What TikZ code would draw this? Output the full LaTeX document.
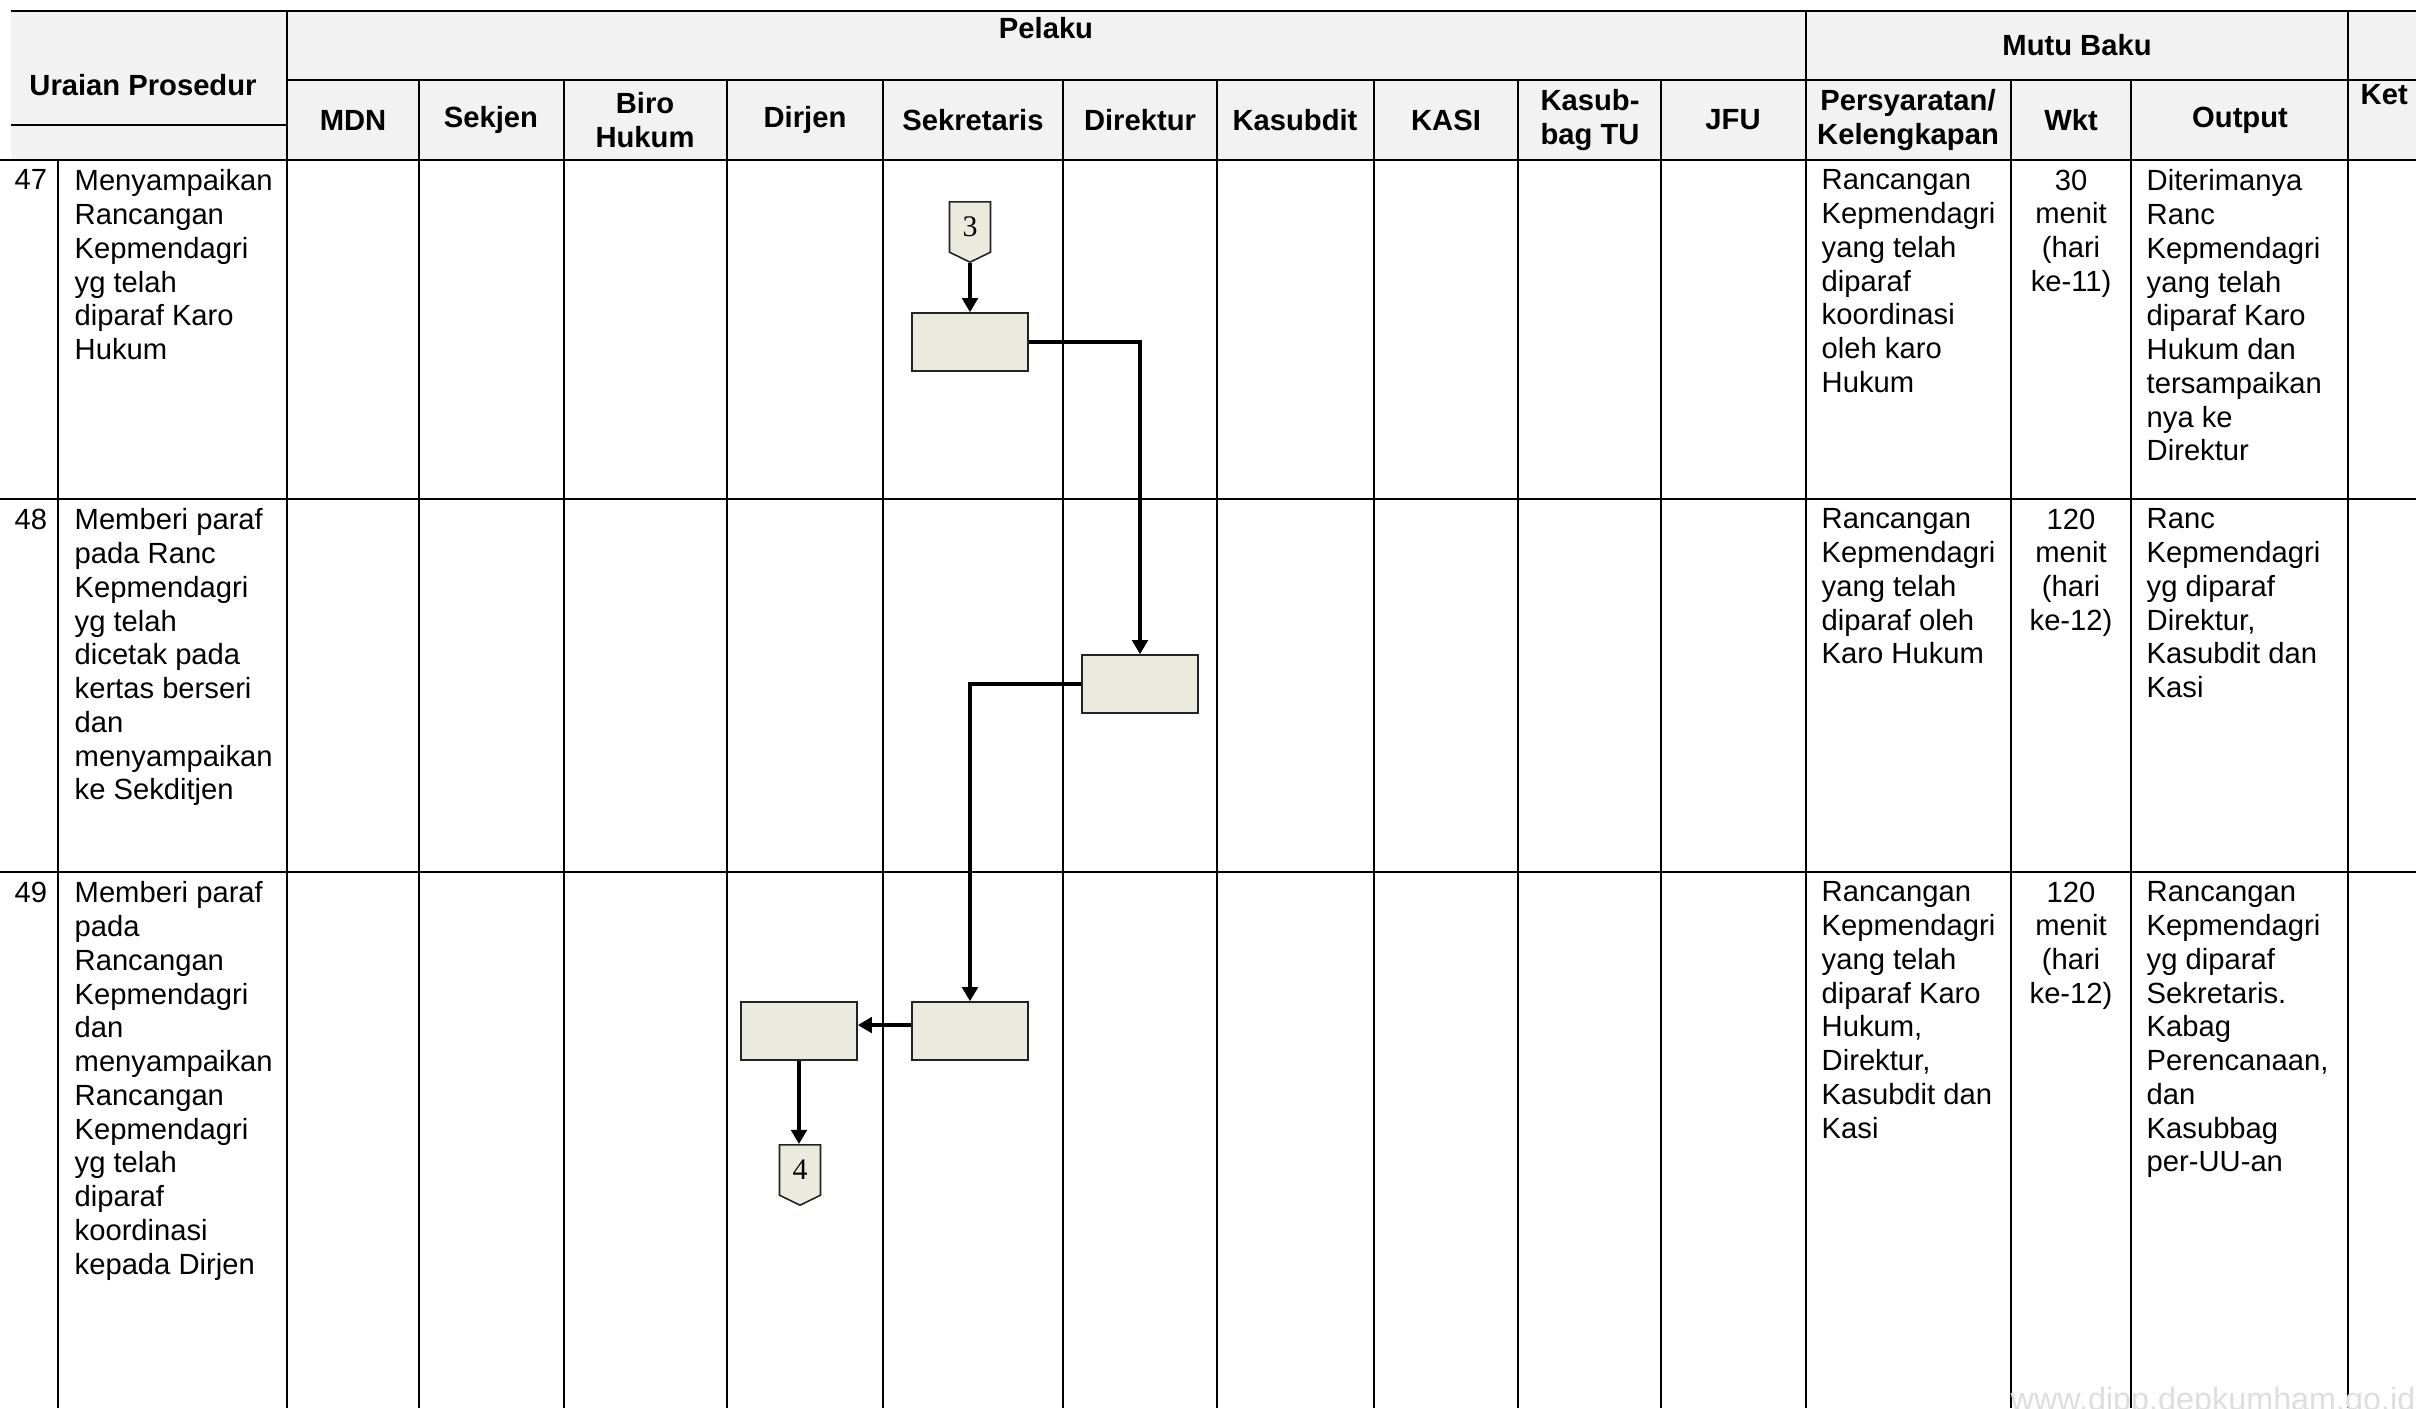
\documentclass[tikz,border=0pt]{standalone}
\usepackage{fontspec}
\setmainfont{Liberation Sans}
\newfontfamily\connfont{Liberation Serif}
\definecolor{headgrey}{RGB}{242,242,242}
\definecolor{boxfill}{RGB}{234,234,222}
\definecolor{boxline}{RGB}{35,35,35}
\definecolor{wmgrey}{RGB}{222,222,222}
\usepackage{tikz}
\usetikzlibrary{arrows.meta,shapes.symbols,positioning}
\newcommand{\bodyfont}{\fontsize{8.3}{9.6}\selectfont}
\newcommand{\hdfont}{\bfseries\fontsize{8.3}{9.6}\selectfont}
\tikzstyle{tabline} = [draw, line width=0.65pt]
\tikzstyle{flow} = [draw, line width=1.35pt, -{Triangle[length=4pt,width=4.4pt]}]
\tikzstyle{proc} = [draw=boxline, fill=boxfill, line width=0.45pt, minimum width=1.16cm, minimum height=0.58cm, inner sep=0]
\tikzstyle{offpage} = [signal, signal to=south, signal pointer angle=128, draw=boxline, fill=boxfill, line width=0.45pt, minimum width=0.41cm, minimum height=0.54cm, inner sep=0, font=\connfont\fontsize{8.5}{10}\selectfont]
\tikzstyle{txt} = [anchor=north west, inner sep=0, align=left, font=\bodyfont]
\tikzstyle{wkt} = [anchor=north, inner sep=0, align=center, font=\bodyfont]
\tikzstyle{hd} = [inner sep=0, align=center, font=\hdfont]

\begin{document}
\begin{tikzpicture}[x=0.01cm,y=-0.01cm]
          \useasboundingbox (0,0) rectangle (2416,1408);
          \fill[headgrey] (11,11) rectangle (2416,160);
          \draw[tabline] (11,11) -- (2416,11);
          \draw[tabline] (287,80) -- (2416,80);
          \draw[tabline] (11,125) -- (287,125);
          \draw[tabline] (0,160) -- (2416,160);
          \draw[tabline] (0,499) -- (2416,499);
          \draw[tabline] (0,872) -- (2416,872);
          \draw[tabline] (58,160) -- (58,1408);
          \draw[tabline] (287,11) -- (287,1408);
          \draw[tabline] (1806,11) -- (1806,1408);
          \draw[tabline] (2348,11) -- (2348,1408);
          \draw[tabline] (419,80) -- (419,1408) (564,80) -- (564,1408) (727,80) -- (727,1408)
                         (883,80) -- (883,1408) (1063,80) -- (1063,1408) (1217,80) -- (1217,1408)
                         (1374,80) -- (1374,1408) (1518,80) -- (1518,1408) (1661,80) -- (1661,1408)
                         (2011,80) -- (2011,1408) (2131,80) -- (2131,1408);
          \node[hd] (uraian) at (143,85) {Uraian Prosedur};
          \node[hd] (pelaku) at (1046,28) {Pelaku};
          \node[hd] (mutu) at (2077,45) {Mutu Baku};
          \node[hd,anchor=west] (ket) at (2360,95) {Ket};
          \node[hd] (mdn) at (353,120) {MDN};
          \node[hd] (sekjen) at (491,120) {Sekjen};
          \node[hd] (biro) at (645,120) {Biro\\Hukum};
          \node[hd] (dirjen) at (805,120) {Dirjen};
          \node[hd] (sekretaris) at (973,120) {Sekretaris};
          \node[hd] (direktur) at (1140,120) {Direktur};
          \node[hd] (kasubdit) at (1295,120) {Kasubdit};
          \node[hd] (kasi) at (1446,120) {KASI};
          \node[hd] (kasubbag) at (1590,120) {Kasub-\\bag TU};
          \node[hd] (jfu) at (1733,120) {JFU};
          \node[hd] (syarat) at (1908,120) {Persyaratan/\\Kelengkapan};
          \node[hd] (wkt) at (2071,120) {Wkt};
          \node[hd] (output) at (2240,120) {Output};
          \node[txt] (n47) at (14,169) {47};
          \node[txt] (u47) at (74,169) {Menyampaikan\\Rancangan\\Kepmendagri\\yg telah\\diparaf Karo\\Hukum};
          \node[txt] (p47) at (1821,169) {Rancangan\\Kepmendagri\\yang telah\\diparaf\\koordinasi\\oleh karo\\Hukum};
          \node[wkt] (w47) at (2071,169) {30\\menit\\(hari\\ke-11)};
          \node[txt] (o47) at (2146,169) {Diterimanya\\Ranc\\Kepmendagri\\yang telah\\diparaf Karo\\Hukum dan\\tersampaikan\\nya ke\\Direktur};
          \node[txt] (n48) at (14,508) {48};
          \node[txt] (u48) at (74,508) {Memberi paraf\\pada Ranc\\Kepmendagri\\yg telah\\dicetak pada\\kertas berseri\\dan\\menyampaikan\\ke Sekditjen};
          \node[txt] (p48) at (1821,508) {Rancangan\\Kepmendagri\\yang telah\\diparaf oleh\\Karo Hukum};
          \node[wkt] (w48) at (2071,508) {120\\menit\\(hari\\ke-12)};
          \node[txt] (o48) at (2146,508) {Ranc\\Kepmendagri\\yg diparaf\\Direktur,\\Kasubdit dan\\Kasi};
          \node[txt] (n49) at (14,881) {49};
          \node[txt] (u49) at (74,881) {Memberi paraf\\pada\\Rancangan\\Kepmendagri\\dan\\menyampaikan\\Rancangan\\Kepmendagri\\yg telah\\diparaf\\koordinasi\\kepada Dirjen};
          \node[txt] (p49) at (1821,881) {Rancangan\\Kepmendagri\\yang telah\\diparaf Karo\\Hukum,\\Direktur,\\Kasubdit dan\\Kasi};
          \node[wkt] (w49) at (2071,881) {120\\menit\\(hari\\ke-12)};
          \node[txt] (o49) at (2146,881) {Rancangan\\Kepmendagri\\yg diparaf\\Sekretaris.\\Kabag\\Perencanaan,\\dan\\Kasubbag\\per-UU-an};
          \node[offpage,anchor=north] (c3) at (970,201) {3};
          \node[proc] (s47) at (970,342) {};
          \node[proc] (d48) at (1140,684) {};
          \node[proc] (s49) at (970,1031) {};
          \node[proc] (j49) at (799,1031) {};
          \node[offpage,anchor=north] (c4) at (800,1144) {4};
          \draw[flow] (c3.south) -- (s47.north);
          \draw[flow] (s47.east) -| (d48.north);
          \draw[flow] (d48.west) -| (s49.north);
          \draw[flow] ([yshift=1.7pt]s49.west) -- ([yshift=1.7pt]j49.east);
          \draw[flow] (j49.south) -- (j49.south |- c4.north);
          \node[anchor=base west, inner sep=0, text=wmgrey, font=\fontsize{9.2}{11}\selectfont] (wm) at (2010,1410) {www.djpp.depkumham.go.id};
        \end{tikzpicture}
\end{document}
